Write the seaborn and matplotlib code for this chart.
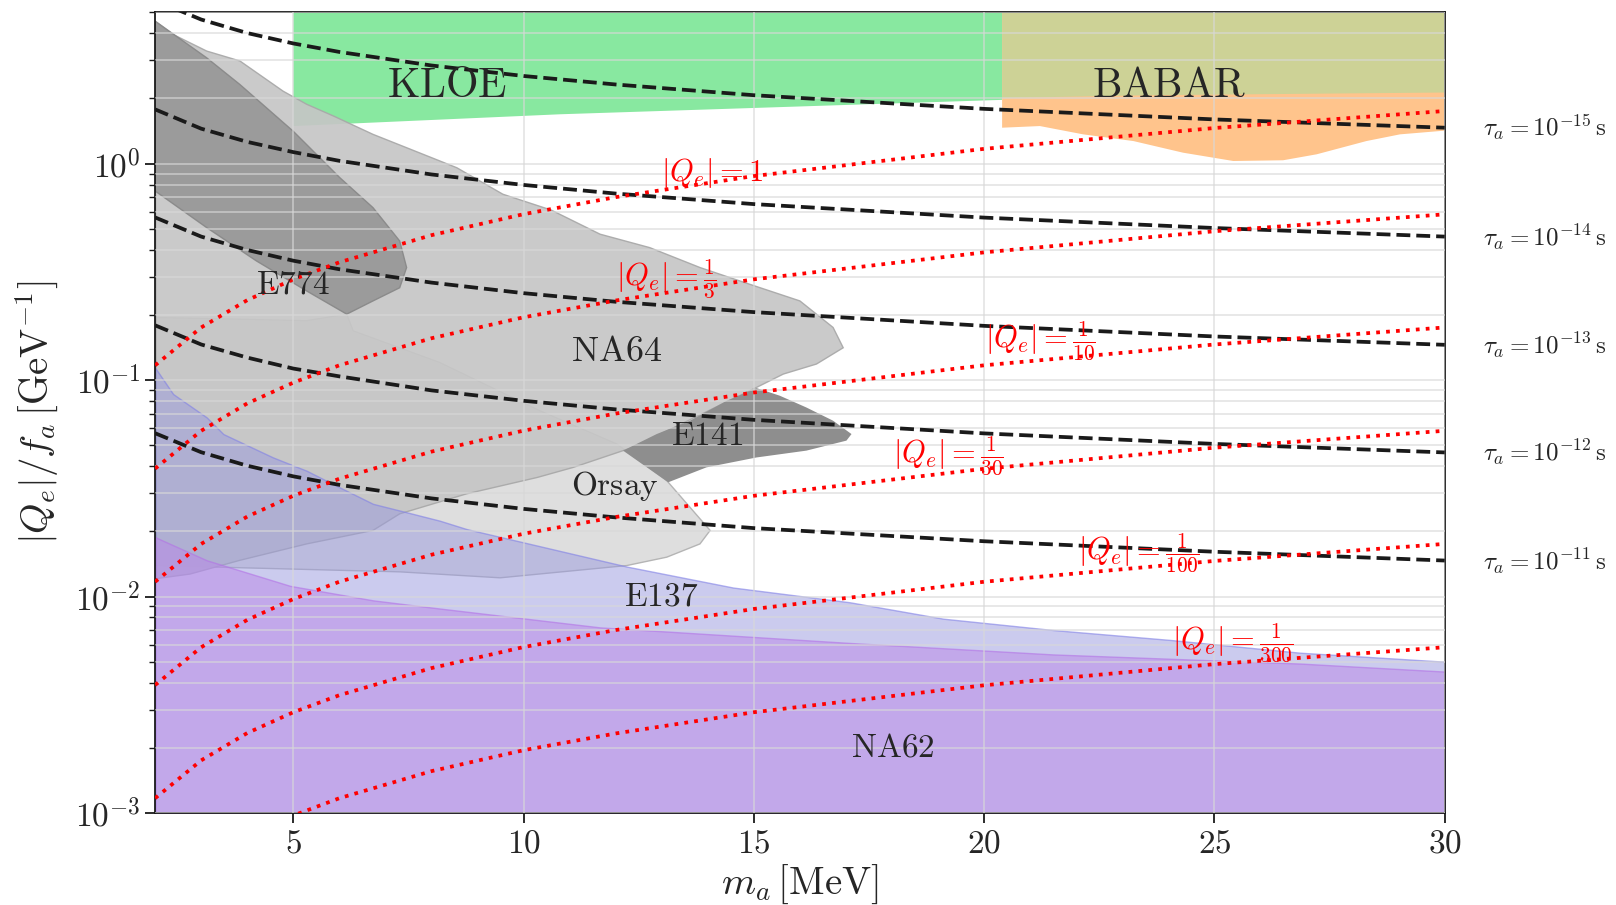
import numpy as np
import seaborn as sns
import matplotlib.pyplot as plt
from matplotlib.ticker import FuncFormatter, NullFormatter, LogLocator


sns.set_theme(style='white')
plt.rcParams['mathtext.fontset'] = 'cm'
plt.rcParams['font.family'] = ['DejaVu Serif']

# ### curves: mass grid (MeV) and coupling |Q_e|/f_a (GeV^-1) ###
masses = [2, 3, 4, 5, 6, 8, 10, 12, 15, 20, 25, 30]

tau_15 = [5.67, 4.63, 4.01, 3.59, 3.28, 2.84, 2.54, 2.32, 2.07, 1.79, 1.60, 1.465]
tau_14 = [1.78, 1.45, 1.26, 1.13, 1.03, 0.891, 0.797, 0.727, 0.650, 0.563, 0.504, 0.460]
tau_13 = [0.564, 0.460, 0.399, 0.356, 0.325, 0.282, 0.252, 0.230, 0.206, 0.178, 0.159, 0.1455]
tau_12 = [0.179, 0.146, 0.127, 0.113, 0.104, 0.0896, 0.0802, 0.0732, 0.0655, 0.0567, 0.0507, 0.0463]
tau_11 = [0.0568, 0.0464, 0.0402, 0.0359, 0.0328, 0.0284, 0.0254, 0.0232, 0.0207, 0.0180, 0.0161, 0.01466]
tau_exps = [-15, -14, -13, -12, -11]

q_1 = [0.117, 0.175, 0.234, 0.292, 0.350, 0.467, 0.584, 0.700, 0.876, 1.17, 1.46, 1.75]
q_3 = [0.039, 0.0583, 0.078, 0.0973, 0.117, 0.156, 0.195, 0.233, 0.292, 0.389, 0.487, 0.583]
q_10 = [0.0117, 0.0175, 0.0234, 0.0292, 0.035, 0.0467, 0.0584, 0.070, 0.0876, 0.117, 0.146, 0.175]
q_30 = [0.0039, 0.00583, 0.0078, 0.00973, 0.0117, 0.0156, 0.0195, 0.0233, 0.0292, 0.0389, 0.0487, 0.0583]
q_100 = [0.00117, 0.00175, 0.00234, 0.00292, 0.0035, 0.00467, 0.00584, 0.0070, 0.00876, 0.0117, 0.0146, 0.0175]
q_300 = [0.00039, 0.000583, 0.00078, 0.000973, 0.00117, 0.00156, 0.00195, 0.00233, 0.00292, 0.00389, 0.00487, 0.00583]

# ### excluded regions ###
e137_m = [2, 2.39, 3.12, 3.48, 4.56, 5.29, 6.01, 6.73, 7.46, 8.18, 8.76, 12.24, 14.55, 17.09, 19.11, 21.5, 24.04, 26.86, 30]
e137_y = [0.114, 0.0862, 0.0672, 0.0563, 0.0439, 0.0381, 0.0319, 0.0268, 0.0245, 0.0224, 0.0205, 0.01375, 0.0110, 0.0094, 0.0079, 0.0070, 0.0063, 0.0055, 0.0050]

na62_m = [2, 3.12, 4.93, 6.73, 8.18, 11.66, 17.09, 21.5, 26.86, 30]
na62_y = [0.0188, 0.0147, 0.0112, 0.0096, 0.0088, 0.0072, 0.0061, 0.0054, 0.0049, 0.0045]

na64_m = [2, 2.39, 3.12, 3.84, 4.78, 5.29, 5.87, 6.73, 7.46, 8.55, 9.55, 10.6, 11.66, 12.74, 13.83, 14.91, 16.0,
          16.72, 16.94, 16.36, 15.64, 15.06, 12.38, 12.16, 11.08, 10.3, 8.76, 7.31, 6.73, 5.29, 3.84, 2.76, 2.03]
na64_y = [4.55, 3.95, 3.31, 2.98, 2.16, 1.88, 1.66, 1.365, 1.184, 0.957, 0.722, 0.61, 0.472, 0.409, 0.331, 0.277, 0.232,
          0.175, 0.141, 0.1186, 0.1066, 0.0925, 0.0489, 0.0472, 0.0395, 0.0355, 0.0298, 0.0241, 0.0202, 0.0175, 0.0147, 0.0127, 0.0121]

orsay_m = [2, 3.84, 5.29, 6.16, 6.30, 8.18, 10.35, 12.02, 13.11, 14.05, 13.83, 13.11, 12.24, 9.49, 7.31, 2]
orsay_y = [0.1945, 0.191, 0.188, 0.2016, 0.1688, 0.1205, 0.0722, 0.0507, 0.0343, 0.0202, 0.0175, 0.0152, 0.0139, 0.0122, 0.0130, 0.0139]

e774_m = [2, 3.12, 3.84, 5.0, 6.01, 6.73, 7.31, 7.46, 7.31, 6.73, 6.16, 5.29, 4.20, 3.12, 2]
e774_y = [4.55, 3.08, 2.32, 1.41, 0.861, 0.626, 0.439, 0.331, 0.267, 0.232, 0.2016, 0.258, 0.355, 0.506, 0.747]

e141_m = [12.16, 12.89, 13.61, 14.41, 15.06, 15.56, 16.14, 16.72, 17.12, 17.01, 16.14, 15.06, 13.97, 13.14]
e141_y = [0.0472, 0.0563, 0.0649, 0.0802, 0.0918, 0.0847, 0.0747, 0.0649, 0.0563, 0.0525, 0.0472, 0.0439, 0.0395, 0.0337]

kloe_m = [5.0, 10.79, 20.39]
kloe_low = [1.49, 1.69, 1.97]

babar_m = [20.39, 21.21, 22.15, 23.24, 24.32, 25.41, 26.49, 27.22, 28.3, 29.03, 30]
babar_low = [1.465, 1.491, 1.365, 1.271, 1.123, 1.028, 1.036, 1.104, 1.271, 1.365, 1.42]
babar_top_m = [20.39, 23.6, 30]
babar_top_low = [2.01, 2.07, 2.13]

y_top = 6
y_bot = 5e-4

fig = plt.figure(figsize=(16.16, 9.05), dpi=100)
ax = fig.add_axes([0.096, 0.1017, 0.798, 0.8847])

# regions: grey beam dumps almost opaque, E137 / NA62 translucent on top
ax.fill(orsay_m, orsay_y, facecolor='#dcdcdc', alpha=0.92, edgecolor='#b0b0b0', lw=1, zorder=1)
ax.fill(na64_m, na64_y, facecolor='#c6c6c6', alpha=0.92, edgecolor='#a8a8a8', lw=1, zorder=1.1)
ax.fill(e774_m, e774_y, facecolor='#979797', alpha=0.92, edgecolor='#888888', lw=1, zorder=1.2)
ax.fill(e141_m, e141_y, facecolor='#8e8e8e', edgecolor='none', zorder=1.3)
ax.fill_between(e137_m, y_bot, e137_y, facecolor=(0.6, 0.6, 0.87, 0.5), edgecolor=(0.5, 0.5, 0.9, 0.6), lw=1, zorder=1.4)
ax.fill_between(na62_m, y_bot, na62_y, facecolor=(0.73, 0.53, 0.91, 0.5), edgecolor=(0.7, 0.45, 0.9, 0.6), lw=1, zorder=1.5)
ax.fill_between(kloe_m, kloe_low, y_top, facecolor='#88e8a0', edgecolor='none', zorder=1)
ax.fill_between(babar_m, babar_low, y_top, facecolor='#ffc48c', edgecolor='none', zorder=1)
ax.fill_between(babar_top_m, babar_top_low, y_top, facecolor='#cdd296', edgecolor='none', zorder=1.1)

# lifetime contours
for ys in [tau_15, tau_14, tau_13, tau_12, tau_11]:
    sns.lineplot(x=masses, y=ys, color='k', linestyle='--', lw=2.7, ax=ax, zorder=4)

# charge contours
for ys in [q_1, q_3, q_10, q_30, q_100, q_300]:
    sns.lineplot(x=masses, y=ys, color='red', linestyle=':', lw=2.7, ax=ax, zorder=4)

ax.set_yscale('log')
ax.set_xlim(2, 30)
ax.set_ylim(1e-3, 5)

# region labels
big = 30
mid = 24
ax.text(8.34, 2.31, r'$\mathrm{KLOE}$', fontsize=big, ha='center', va='center', zorder=5)
ax.text(24.02, 2.31, r'$\mathrm{BABAR}$', fontsize=big, ha='center', va='center', zorder=5)
ax.text(5.0, 0.277, r'$\mathrm{E774}$', fontsize=mid, ha='center', va='center', zorder=5)
ax.text(12.02, 0.1365, r'$\mathrm{NA64}$', fontsize=26, ha='center', va='center', zorder=5)
ax.text(13.99, 0.0553, r'$\mathrm{E141}$', fontsize=mid, ha='center', va='center', zorder=5)
ax.text(11.98, 0.0325, r'$\mathrm{Orsay}$', fontsize=mid, ha='center', va='center', zorder=5)
ax.text(12.98, 0.0100, r'$\mathrm{E137}$', fontsize=mid, ha='center', va='center', zorder=5)
ax.text(18.02, 0.00201, r'$\mathrm{NA62}$', fontsize=mid, ha='center', va='center', zorder=5)

# charge labels
qfs = 22
ax.text(14.09, 0.905, r'$|Q_e|=1$', color='red', fontsize=qfs, ha='center', va='center', zorder=5)
ax.text(13.1, 0.293, r'$|Q_e|=\frac{1}{3}$', color='red', fontsize=qfs, ha='center', va='center', zorder=5)
ax.text(21.23, 0.152, r'$|Q_e|=\frac{1}{10}$', color='red', fontsize=qfs, ha='center', va='center', zorder=5)
ax.text(19.22, 0.045, r'$|Q_e|=\frac{1}{30}$', color='red', fontsize=qfs, ha='center', va='center', zorder=5)
ax.text(23.36, 0.01596, r'$|Q_e|=\frac{1}{100}$', color='red', fontsize=qfs, ha='center', va='center', zorder=5)
ax.text(25.4, 0.0061, r'$|Q_e|=\frac{1}{300}$', color='red', fontsize=qfs, ha='center', va='center', zorder=5)

# lifetime labels, outside on the right
for ys, e in zip([tau_15, tau_14, tau_13, tau_12, tau_11], tau_exps):
    ax.text(30.83, ys[-1], r'$\tau_a = 10^{%d}\,\mathrm{s}$' % e, fontsize=18,
            ha='left', va='center', clip_on=False)

# axes cosmetics
ax.set_xticks([5, 10, 15, 20, 25, 30])
ax.xaxis.set_major_formatter(FuncFormatter(lambda v, p: r'$%d$' % v))
ax.yaxis.set_major_locator(LogLocator(base=10, numticks=10))
ax.yaxis.set_minor_locator(LogLocator(base=10, subs=np.arange(2, 10), numticks=50))
ax.yaxis.set_major_formatter(FuncFormatter(lambda v, p: r'$10^{%d}$' % int(round(np.log10(v)))))
ax.yaxis.set_minor_formatter(NullFormatter())

ax.tick_params(axis='both', which='both', direction='out', bottom=True, left=True,
               labelsize=24, color='k')
ax.tick_params(which='major', length=7, width=1.3)
ax.tick_params(which='minor', length=4, width=1.0)

ax.set_axisbelow(False)
ax.grid(True, which='major', axis='x', color='#d8d8d8', alpha=0.7, lw=1.2, zorder=2.5)
ax.grid(True, which='both', axis='y', color='#d8d8d8', alpha=0.7, lw=1.2, zorder=2.5)

for s in ax.spines.values():
    s.set_color('k')
    s.set_linewidth(1.3)

ax.set_xlabel(r'$m_a\,[\mathrm{MeV}]$', fontsize=28, labelpad=2)
ax.set_ylabel(r'$|Q_e|/f_a\,[\mathrm{GeV}^{-1}]$', fontsize=28, labelpad=10)

fig.savefig('out.png', dpi=100)
